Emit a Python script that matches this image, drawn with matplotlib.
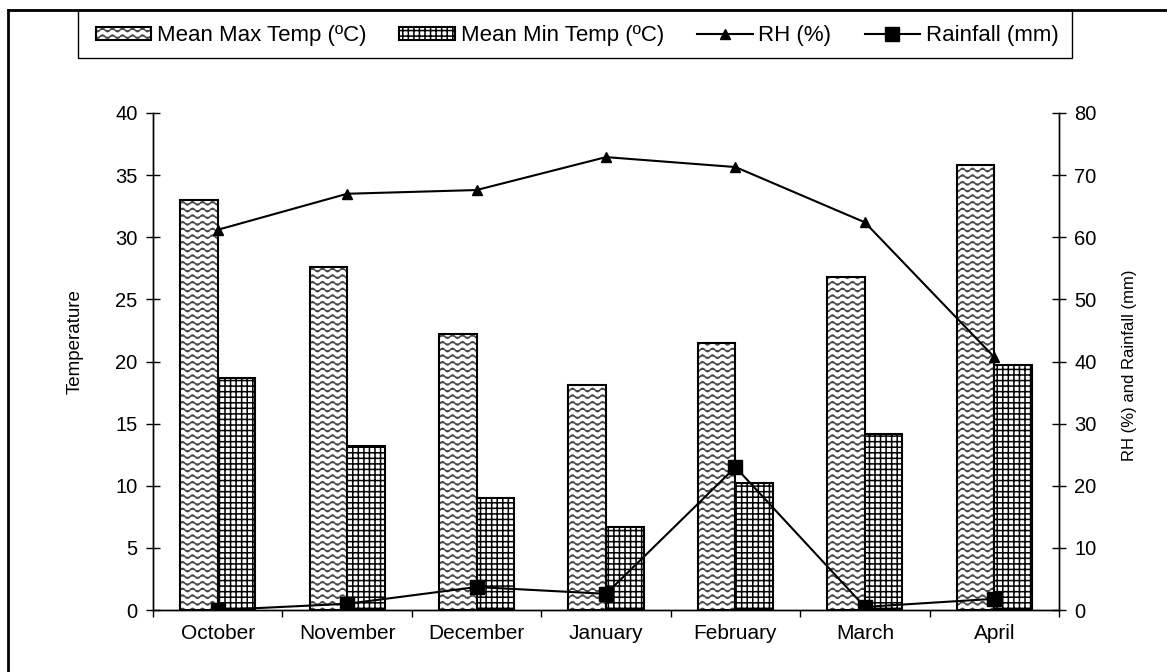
import numpy as np
import matplotlib
matplotlib.use("Agg")
import matplotlib.pyplot as plt
import matplotlib.hatch as mhatch
from matplotlib.path import Path
from matplotlib.lines import Line2D
from matplotlib.patches import Rectangle
from matplotlib.colors import to_rgba
import warnings
warnings.filterwarnings("ignore")

months = ["October", "November", "December", "January", "February", "March", "April"]
max_temp = [33.0, 27.6, 22.2, 18.1, 21.5, 26.8, 35.8]
min_temp = [18.7, 13.2, 9.0, 6.7, 10.2, 14.2, 19.7]
rh = [61.2, 67.0, 67.6, 72.9, 71.3, 62.4, 40.7]
rainfall = [0.0, 1.0, 3.7, 2.6, 23.0, 0.5, 1.8]


class WaveHatch(mhatch.HatchPatternBase):
    def __init__(self, hatch, density):
        self.num_rows = 15 if '~' in hatch else 0
        self.n_per_row = 81
        self.num_vertices = self.num_rows * self.n_per_row

    def set_vertices_and_codes(self, vertices, codes):
        xs = np.linspace(0, 1, self.n_per_row)
        for i in range(self.num_rows):
            y0 = (i + 0.5) / self.num_rows
            s = i * self.n_per_row
            e = s + self.n_per_row
            vertices[s:e, 0] = xs
            vertices[s:e, 1] = y0 + 0.017 * np.sin(2 * np.pi * 10 * xs)
            codes[s:e] = Path.LINETO
            codes[s] = Path.MOVETO


mhatch._hatch_types.append(WaveHatch)

plt.rcParams['font.family'] = ['Liberation Sans', 'DejaVu Sans']
plt.rcParams['hatch.linewidth'] = 1.1

WAVE_COLOR = '#4a4a4a'
W, H = 1167, 672
fig = plt.figure(figsize=(W / 100, H / 100), dpi=100)
ax = fig.add_axes([153 / W, 1 - 610 / H, (1059 - 153) / W, (610 - 113) / H])
ax2 = ax.twinx()

x = np.arange(len(months))
bw = 0.29
b1 = ax.bar(x - bw / 2, max_temp, bw, facecolor='white', edgecolor='black',
            linewidth=1.5, hatch='~', label='Mean Max Temp (ºC)')
for p in b1:
    p._hatch_color = to_rgba(WAVE_COLOR)
b2 = ax.bar(x + bw / 2, min_temp, bw, facecolor='white', edgecolor='black',
            linewidth=1.5, hatch='+++', label='Mean Min Temp (ºC)')

l1, = ax2.plot(x, rh, color='black', lw=1.5, marker='^', ms=7.5, label='RH (%)')
l2, = ax2.plot(x, rainfall, color='black', lw=1.5, marker='s', ms=10, label='Rainfall (mm)')

ax.set_xlim(-0.5, len(months) - 0.5)
ax.set_ylim(0, 40)
ax2.set_ylim(0, 80)
ax.set_yticks(np.arange(0, 41, 5))
ax2.set_yticks(np.arange(0, 81, 10))
ax.set_xticks(x)
ax.set_xticklabels(months, fontsize=15)
ax.set_xticks(np.arange(-0.5, len(months) + 0.5, 1), minor=True)
ax.tick_params(axis='x', which='major', length=0, pad=10)
ax.tick_params(axis='x', which='minor', length=5, direction='out', width=1)
ax.tick_params(axis='y', direction='inout', length=10, width=1, labelsize=14.5, pad=6)
ax2.tick_params(axis='y', direction='inout', length=10, width=1, labelsize=14.5, pad=6)

for a in (ax, ax2):
    a.spines['top'].set_visible(False)
    for s in ('left', 'right', 'bottom'):
        a.spines[s].set_linewidth(1)
ax.set_ylabel('Temperature', fontsize=13.5)
ax.yaxis.set_label_coords(-0.077, (610 - 342) / 497)
ax2.set_ylabel('RH (%) and Rainfall (mm)', fontsize=12)
ax2.yaxis.set_label_coords(1.069, (610 - 365) / 497)

# outer frame (left and top edges visible)
fig.add_artist(Line2D([8 / W, 8 / W], [0, 1 - 10 / H], transform=fig.transFigure,
                      color='black', lw=2))
fig.add_artist(Line2D([8 / W, 1], [1 - 10 / H, 1 - 10 / H], transform=fig.transFigure,
                      color='black', lw=2))
# legend box
fig.add_artist(Rectangle((78 / W, 1 - 58 / H), (1072 - 78) / W, 48 / H,
                         transform=fig.transFigure, fill=False, edgecolor='black', lw=1))

leg = fig.legend([b1, b2, l1, l2], [b1.get_label(), b2.get_label(), l1.get_label(), l2.get_label()],
                 loc='center', bbox_to_anchor=(577 / W, 1 - 36 / H), ncol=4, frameon=False,
                 fontsize=16, handlelength=2.5, handletextpad=0.25, columnspacing=1.5,
                 numpoints=1, handleheight=0.5)
for h in leg.legend_handles[:1]:
    h._hatch_color = to_rgba(WAVE_COLOR)

fig.savefig('out.png', dpi=100)
